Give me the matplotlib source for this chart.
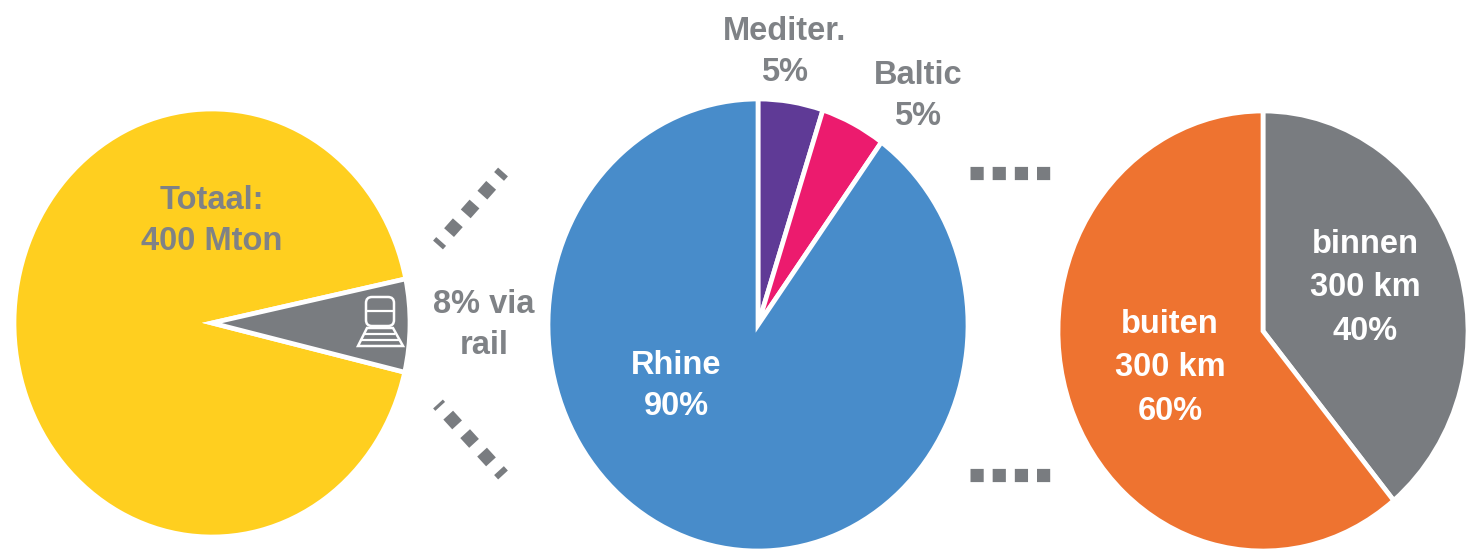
import matplotlib
matplotlib.use("Agg")
import matplotlib.pyplot as plt
from matplotlib.patches import FancyBboxPatch, Polygon

plt.rcParams['font.family'] = ['Liberation Sans', 'DejaVu Sans']

W, H = 1471, 551
GREY_TEXT = '#7f8286'

# Pie data
total_labels = ['Totaal', 'via rail']
total_values = [93, 7]
total_colors = ['#ffcf1f', '#797c80']

sea_labels = ['Mediter.', 'Baltic', 'Rhine']
sea_values = [5, 5, 90]
sea_colors = ['#5f3a96', '#ec1b6e', '#488cca']

dist_labels = ['binnen 300 km', 'buiten 300 km']
dist_values = [39, 61]
dist_colors = ['#797c80', '#ee7330']

fig = plt.figure(figsize=(W / 100, H / 100), dpi=100)


# Draw a pie into an axes placed by pixel box (the source picture is stretched, so no equal aspect)
def draw_pie(values, colors, left, right, top, bottom, startangle):
    ax = fig.add_axes([left / W, 1 - bottom / H, (right - left) / W, (bottom - top) / H])
    ax.pie(values, colors=colors, startangle=startangle, counterclock=False, radius=1,
           wedgeprops={'edgecolor': 'white', 'linewidth': 3.4, 'clip_on': False})
    ax.set_aspect('auto')
    ax.set_xlim(-1, 1)
    ax.set_ylim(-1, 1)
    ax.axis('off')
    return ax


# Total pie: the rail slice sits on the right-hand side, a little below the middle
draw_pie(total_values, total_colors, 14, 410, 109, 537, -13.3)
draw_pie(sea_values, sea_colors, 548, 968, 99, 551, 90)
draw_pie(dist_values, dist_colors, 1058, 1468, 111, 551, 90)

# Overlay in pixel coordinates for texts, dotted connectors and the train icon
ov = fig.add_axes([0, 0, 1, 1])
ov.set_xlim(0, W)
ov.set_ylim(H, 0)
ov.axis('off')
ov.patch.set_alpha(0)

conn = {'color': '#797c80', 'linewidth': 9.5, 'solid_capstyle': 'butt', 'dash_capstyle': 'butt'}
ov.plot([970, 1050], [173, 173], linestyle=(0, (1.0, 0.68)), **conn)
ov.plot([970, 1050], [475, 475], linestyle=(0, (1.0, 0.68)), **conn)
ov.plot([503, 438], [172, 245], linestyle=(0.55, (1.0, 0.9)), **conn)
ov.plot([503, 438], [475, 404], linestyle=(0.55, (1.0, 0.9)), **conn)

txt = {'fontsize': 23.5, 'fontweight': 'bold', 'ha': 'center', 'va': 'center'}
ov.text(212, 221, 'Totaal:\n400 Mton', color=GREY_TEXT, linespacing=1.45, **txt)
ov.text(484, 325, '8% via\nrail', color=GREY_TEXT, linespacing=1.42, **txt)
ov.text(785, 52, 'Mediter.\n5%', color=GREY_TEXT, linespacing=1.38, **txt)
ov.text(918, 96, 'Baltic\n5%', color=GREY_TEXT, linespacing=1.45, **txt)
ov.text(676, 386, 'Rhine\n90%', color='white', linespacing=1.45, **txt)
ov.text(1170, 368, 'buiten\n300 km\n60%', color='white', linespacing=1.52, **txt)
ov.text(1365, 288, 'binnen\n300 km\n40%', color='white', linespacing=1.52, **txt)

# Train icon
ov.add_patch(FancyBboxPatch((366, 297), 28, 29, boxstyle='round,pad=0,rounding_size=6',
                            facecolor='none', edgecolor='white', linewidth=1.8))
ov.plot([367, 393], [311, 311], color='white', linewidth=1.6)
ov.add_patch(Polygon([(367, 328), (393, 328), (403, 346), (358, 346)],
                     closed=True, facecolor='none', edgecolor='white', linewidth=1.8))
ov.plot([366, 394], [334, 334], color='white', linewidth=1.6)
ov.plot([362, 398], [340, 340], color='white', linewidth=1.6)

fig.savefig('out.png', dpi=100, facecolor='white')
